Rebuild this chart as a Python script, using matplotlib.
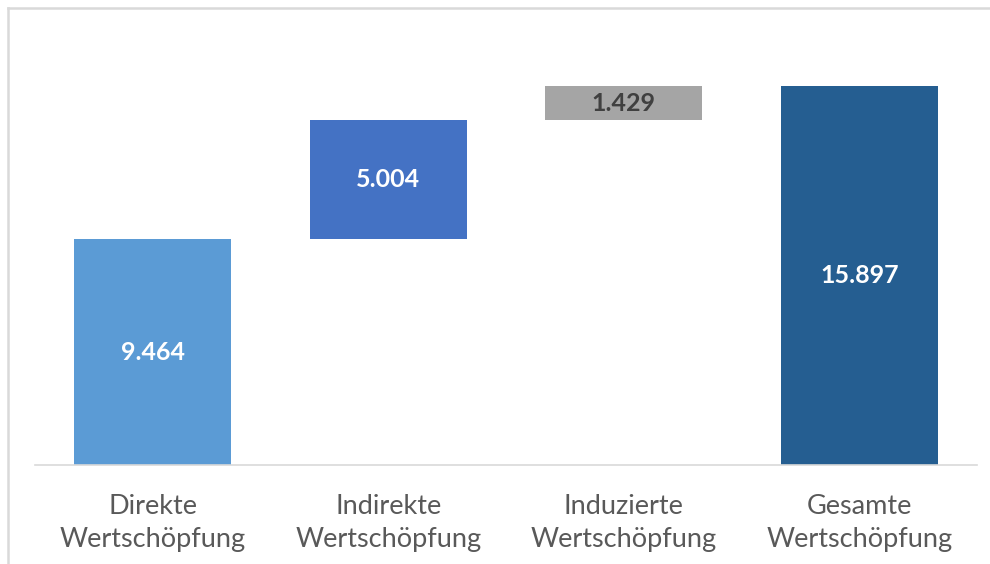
import matplotlib
matplotlib.use("Agg")
import matplotlib.pyplot as plt
from matplotlib.lines import Line2D

categories = ["Direkte\nWertschöpfung", "Indirekte\nWertschöpfung", "Induzierte\nWertschöpfung", "Gesamte\nWertschöpfung"]
values = [9.464, 5.004, 1.429, 15.897]
labels = ["9.464", "5.004", "1.429", "15.897"]
colors = ["#5B9BD5", "#4472C4", "#A5A5A5", "#255E91"]
label_colors = ["white", "white", "#404040", "white"]

plt.rcParams['font.family'] = ['Lato', 'DejaVu Sans']

W, H = 990, 564
fig = plt.figure(figsize=(W / 100, H / 100), dpi=100)
ax = fig.add_axes([35 / W, 1 - 465 / H, (977 - 35) / W, (465 - 36) / H])

bottoms = [0, values[0], values[0] + values[1], 0]
x = range(len(categories))
ax.bar(x, values, bottom=bottoms, width=0.667, color=colors)
for i, (v, b) in enumerate(zip(values, bottoms)):
    ax.text(i, b + v / 2, labels[i], ha="center", va="center", color=label_colors[i],
            fontsize=18, fontweight="bold")

ax.set_xlim(-0.5, 3.5)
ax.set_ylim(0, 18)
ax.set_xticks(list(x))
ax.set_xticklabels(categories, fontsize=19.5, color="#595959", linespacing=1.4)
ax.tick_params(axis="x", length=0, pad=21)
ax.set_yticks([])
for s in ["top", "right", "left"]:
    ax.spines[s].set_visible(False)
ax.spines["bottom"].set_color("#D9D9D9")
ax.spines["bottom"].set_linewidth(1.2)

# outer chart frame (left and top edges visible)
fc = "#D9D9D9"
fig.add_artist(Line2D([8 / W, 8 / W], [0, 1 - 8 / H], transform=fig.transFigure, color=fc, lw=1.8))
fig.add_artist(Line2D([8 / W, 1], [1 - 8 / H, 1 - 8 / H], transform=fig.transFigure, color=fc, lw=1.8))

fig.savefig("out.png", dpi=100)
